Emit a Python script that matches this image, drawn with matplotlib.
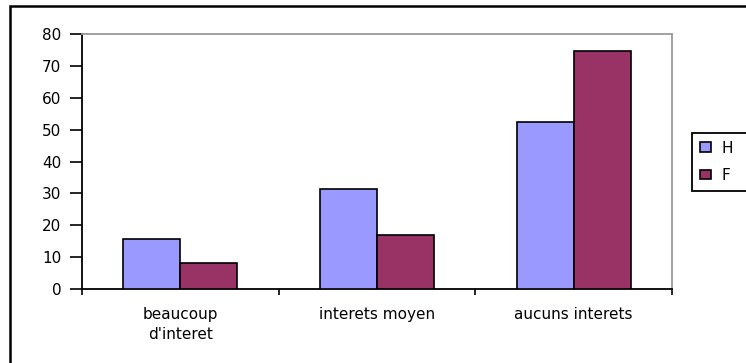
import matplotlib
matplotlib.use("Agg")
import matplotlib.pyplot as plt
from matplotlib.patches import Rectangle
import numpy as np

plt.rcParams['font.family'] = ['DejaVu Sans']

categories = ["beaucoup\nd'interet", "interets moyen", "aucuns interets"]
series_names = ["H", "F"]
valeurs_h = [15.7, 31.4, 52.3]
valeurs_f = [8.2, 16.9, 74.6]
couleurs = ["#9999FF", "#993366"]
taille = 11

W, H = 746, 363
fig = plt.figure(figsize=(W / 100, H / 100), dpi=100)

# cadre exterieur (coupe a droite et en bas)
fig.patches.append(Rectangle((10 / W, -0.05), 1.0, 1 - 6 / H + 0.05,
                             transform=fig.transFigure, fill=False,
                             edgecolor="black", linewidth=1.8, clip_on=False))

ax = fig.add_axes([82 / W, 1 - 289 / H, (672 - 82) / W, (289 - 34) / H])

x = np.arange(len(categories))
largeur = 0.29
b1 = ax.bar(x - largeur / 2, valeurs_h, largeur, color=couleurs[0],
            edgecolor="black", linewidth=1.2, label=series_names[0], zorder=3)
b2 = ax.bar(x + largeur / 2, valeurs_f, largeur, color=couleurs[1],
            edgecolor="black", linewidth=1.2, label=series_names[1], zorder=3)

ax.set_xlim(-0.5, len(categories) - 0.5)
ax.set_ylim(0, 80)
ax.set_yticks(np.arange(0, 81, 10))
ax.tick_params(axis="y", direction="out", length=9, width=1.2,
               labelsize=taille, pad=6)

# ticks de categorie aux limites
ax.set_xticks(np.arange(-0.5, len(categories), 1.0))
ax.set_xticklabels([])
ax.tick_params(axis="x", direction="out", length=4.5, width=1.2)
ax.set_xticks(x, minor=True)
ax.set_xticklabels(categories, minor=True, fontsize=taille, linespacing=1.45)
ax.tick_params(axis="x", which="minor", length=0, pad=13)

ax.spines["left"].set_color("black")
ax.spines["bottom"].set_color("black")
ax.spines["top"].set_color("#999999")
ax.spines["right"].set_color("#999999")
for s in ax.spines.values():
    s.set_linewidth(1.3)

leg = fig.legend(handles=[b1, b2], labels=series_names,
                 loc="upper left", bbox_to_anchor=(692 / W, 1 - 188 / H, 80 / W, 55 / H),
                 mode="expand", frameon=True, fancybox=False, edgecolor="black",
                 framealpha=1, fontsize=taille, handlelength=0.75, handleheight=0.6,
                 handletextpad=0.7, borderpad=0.5, labelspacing=0.8,
                 borderaxespad=0)
leg.get_frame().set_linewidth(1.3)

fig.savefig("out.png", dpi=100)
